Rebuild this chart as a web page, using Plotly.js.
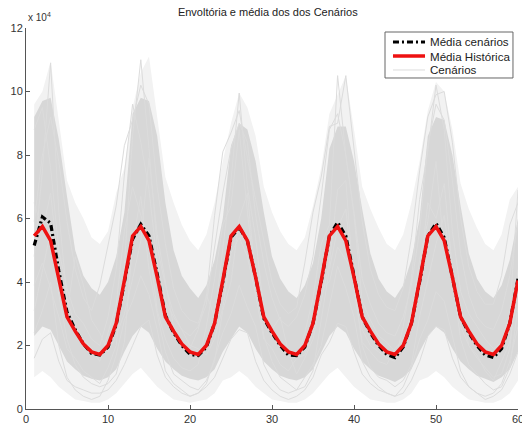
<!DOCTYPE html>
<html>
<head>
<meta charset="utf-8">
<script src="https://cdn.plot.ly/plotly-3.0.1.min.js"></script>
<style>html,body{margin:0;padding:0;background:#fff;}#chart{width:522px;height:425px;}</style>
</head>
<body>
<div id="chart"></div>
<script>
// Month index 1..60
const months = [1,2,3,4,5,6,7,8,9,10,11,12,13,14,15,16,17,18,19,20,21,22,23,24,25,26,27,28,29,30,31,32,33,34,35,36,37,38,39,40,41,42,43,44,45,46,47,48,49,50,51,52,53,54,55,56,57,58,59,60];

// Values in units of 10^4
const mediaHistorica = [5.45,5.75,5.3,4.15,2.9,2.45,2.05,1.8,1.72,2.0,2.7,4.05,
                        5.45,5.75,5.3,4.15,2.9,2.45,2.05,1.8,1.72,2.0,2.7,4.05,
                        5.45,5.75,5.3,4.15,2.9,2.45,2.05,1.8,1.72,2.0,2.7,4.05,
                        5.45,5.75,5.3,4.15,2.9,2.45,2.05,1.8,1.72,2.0,2.7,4.05,
                        5.45,5.75,5.3,4.15,2.9,2.45,2.05,1.8,1.72,2.0,2.7,4.05];

const mediaCenarios = [5.15,6.05,5.85,4.35,3.05,2.5,2.05,1.75,1.7,1.95,2.65,4.0,
                       5.35,5.82,5.45,4.25,2.95,2.4,2.0,1.72,1.68,1.95,2.7,4.0,
                       5.4,5.72,5.3,4.15,2.85,2.4,2.0,1.7,1.68,1.95,2.7,4.0,
                       5.45,5.88,5.45,4.2,2.9,2.4,2.0,1.72,1.62,1.95,2.7,4.0,
                       5.45,5.85,5.4,4.15,2.9,2.4,2.0,1.7,1.62,1.9,2.7,4.1];

// Scenario envelope (max / min) and dense core of the scenarios
const cenariosMax = [9.6,10.0,10.95,9.0,7.2,6.5,6.0,5.4,5.2,5.6,6.8,7.6,
                     9.5,10.6,11.1,9.2,7.3,6.5,5.8,5.3,5.0,5.5,6.5,7.8,
                     9.0,9.95,9.5,8.6,7.0,6.2,5.6,5.2,5.0,5.4,6.4,7.6,
                     9.3,9.9,10.5,8.8,7.0,6.3,5.7,5.2,5.0,5.5,6.5,7.8,
                     9.4,10.3,10.0,8.8,7.1,6.3,5.7,5.2,5.0,5.5,6.6,7.0];
const cenariosCoreHi = [9.2,9.7,9.8,8.5,6.7,5.0,4.2,3.8,3.6,4.0,4.8,6.2,
                        9.3,9.8,9.7,8.6,6.5,5.0,4.2,3.8,3.5,3.9,4.7,6.0,
                        8.3,9.0,8.8,7.8,6.2,4.8,4.1,3.7,3.5,3.9,4.6,6.0,
                        8.2,8.9,8.9,7.8,6.3,4.9,4.1,3.7,3.5,3.9,4.7,6.0,
                        8.6,9.2,9.1,8.0,6.4,4.9,4.1,3.7,3.5,3.9,4.7,6.0];
const cenariosCoreLo = [2.3,2.6,2.5,2.0,1.5,1.25,1.05,0.95,0.9,1.0,1.25,1.8,
                        2.3,2.6,2.4,1.9,1.5,1.25,1.05,0.95,0.9,1.0,1.25,1.8,
                        2.2,2.6,2.4,1.9,1.5,1.25,1.05,0.95,0.9,1.0,1.25,1.8,
                        2.3,2.6,2.4,1.9,1.5,1.25,1.05,0.95,0.85,1.0,1.25,1.8,
                        2.3,2.6,2.4,1.9,1.5,1.25,1.05,0.95,0.85,1.0,1.25,1.8];
const cenariosMin = [1.0,1.2,1.0,0.7,0.5,0.3,0.25,0.2,0.2,0.3,0.5,0.8,
                     1.1,1.3,1.0,0.7,0.5,0.3,0.25,0.2,0.25,0.3,0.5,0.9,
                     1.0,1.2,1.0,0.7,0.5,0.3,0.25,0.2,0.2,0.3,0.5,0.8,
                     1.1,1.3,1.0,0.7,0.5,0.3,0.25,0.2,0.2,0.3,0.5,0.9,
                     1.0,1.2,1.0,0.7,0.5,0.3,0.25,0.2,0.2,0.3,0.5,0.9];

// Individual scenario strands
const cenario1 = [4.8,7.5,10.9,6.2,3.5,2.6,2.2,1.9,1.5,2.4,3.3,5.6,7.0,6.1,5.2,3.1,2.2,1.6,1.3,1.2,1.4,2.6,4.1,5.8,6.4,8.8,6.2,4.0,2.7,2.5,2.9,1.8,1.1,1.6,2.2,3.4,4.6,6.9,7.2,3.8,2.1,1.8,1.5,1.4,1.9,2.2,2.9,4.7,5.9,7.8,5.0,4.2,3.3,2.0,1.7,1.2,0.9,1.5,2.1,3.8];
const cenario2 = [3.9,4.6,3.8,2.9,1.9,1.6,1.2,1.0,0.8,1.3,2.0,4.5,8.6,11.0,8.2,5.1,3.9,3.0,2.5,2.0,1.9,1.7,2.2,3.2,4.9,5.4,4.8,3.6,2.2,1.9,1.4,1.2,1.6,2.4,3.5,5.2,5.8,10.5,8.0,6.1,3.4,2.8,2.3,2.1,1.8,2.0,3.1,4.1,6.5,6.0,7.1,4.4,2.6,2.0,1.6,1.3,1.0,1.1,1.9,4.4];
const cenario3 = [6.5,5.6,6.8,4.4,3.0,4.8,3.9,2.8,2.4,1.8,2.3,3.0,4.1,5.3,7.9,5.5,4.0,2.6,2.0,1.9,2.5,3.6,2.9,5.0,7.2,9.95,7.0,5.4,3.1,2.3,2.1,1.8,1.6,1.7,2.4,3.8,4.0,5.1,4.7,4.3,2.5,2.0,1.8,1.6,1.5,2.6,4.1,6.6,8.1,10.2,8.8,5.6,3.7,3.0,2.6,2.2,1.9,2.1,3.0,6.9];
const cenario4 = [2.4,3.1,4.0,2.0,1.0,0.6,0.4,0.3,0.4,0.9,1.7,2.8,3.4,4.2,3.6,2.5,1.2,0.8,0.6,0.4,0.5,0.8,1.6,2.4,3.0,3.9,3.2,2.6,1.4,0.9,0.6,0.5,0.6,1.0,1.4,2.0,3.3,4.5,3.8,2.9,1.5,1.0,0.7,0.5,0.4,0.7,1.3,2.2,2.8,3.7,3.4,2.3,1.2,0.7,0.5,0.4,0.5,0.8,1.5,2.6];
const cenario5 = [8.8,9.5,7.6,5.0,3.8,3.0,2.7,2.2,2.0,2.9,4.4,7.4,9.6,8.4,6.9,4.6,3.4,2.9,2.5,2.3,2.6,3.3,5.1,6.8,8.2,9.0,8.4,6.1,4.6,3.5,2.8,2.6,2.9,3.6,4.8,6.7,8.8,9.3,8.0,6.2,4.1,3.3,2.7,2.4,2.3,2.9,3.9,5.6,8.3,9.6,9.1,7.2,4.9,3.6,2.9,2.6,2.5,3.1,4.2,5.9];
const cenario6 = [3.1,4.4,5.6,3.6,2.2,1.4,1.0,0.8,0.7,0.8,1.1,2.1,5.2,6.7,4.4,3.0,1.8,1.1,0.9,0.7,0.6,0.9,1.5,3.1,4.0,6.0,6.8,4.1,2.3,1.5,1.0,0.8,0.6,0.7,1.2,2.8,4.4,5.7,6.3,3.9,2.0,1.3,1.0,0.9,0.7,0.9,1.4,2.9,4.1,5.2,6.1,4.2,2.2,1.4,1.1,0.8,0.6,0.7,1.3,3.2];
const cenario7 = [5.9,8.0,9.2,7.8,5.9,4.4,3.5,3.1,3.9,5.2,6.4,8.3,9.1,10.2,9.6,7.0,5.2,3.8,3.1,2.8,2.7,3.5,6.1,8.1,8.7,9.4,7.9,6.6,5.3,4.0,3.3,3.0,3.2,4.6,6.2,7.3,8.9,9.0,10.5,8.2,5.9,4.4,3.6,3.2,3.1,3.8,5.4,7.5,9.2,9.9,10.0,8.4,6.0,4.5,3.7,3.3,3.3,4.2,5.8,6.5];
const cenario8 = [1.6,2.2,2.4,1.5,0.9,0.7,0.6,0.5,0.5,0.6,0.9,1.4,2.0,2.6,2.8,1.7,1.0,0.7,0.5,0.4,0.5,0.7,1.0,1.6,2.2,2.5,2.4,1.5,0.9,0.6,0.4,0.3,0.4,0.6,1.0,1.7,2.1,2.7,2.6,1.8,1.1,0.8,0.6,0.5,0.4,0.5,0.9,1.5,2.3,2.6,2.5,1.6,1.0,0.7,0.5,0.3,0.4,0.6,1.1,1.8];

const xTicks = [0,10,20,30,40,50,60];
const yTicks = [0,2,4,6,8,10,12];
const legendLabels = ['Média cenários','Média Histórica','Cenários'];

const scenGray = '#dcdcdc';
const redCol = '#ee1111';
const blackDash = '6px,3px,2px,3px';

const strands = [cenario1,cenario2,cenario3,cenario4,cenario5,cenario6,cenario7,cenario8];
const traces = [
  {x: months, y: cenariosMin, type:'scatter', mode:'lines', line:{width:0}, showlegend:false, hoverinfo:'skip'},
  {x: months, y: cenariosMax, type:'scatter', mode:'lines', line:{width:0}, fill:'tonexty', fillcolor:'#f2f2f2', showlegend:false, hoverinfo:'skip'},
  {x: months, y: cenariosCoreLo, type:'scatter', mode:'lines', line:{width:0}, showlegend:false, hoverinfo:'skip'},
  {x: months, y: cenariosCoreHi, type:'scatter', mode:'lines', line:{width:0}, fill:'tonexty', fillcolor:'#d7d7d7', showlegend:false, hoverinfo:'skip'}
];
strands.forEach(s => traces.push({x: months, y: s, type:'scatter', mode:'lines', line:{color:scenGray, width:1}, showlegend:false}));
traces.push({x: months, y: mediaCenarios, type:'scatter', mode:'lines', line:{color:'#000000', width:3.2, dash:blackDash}, showlegend:false});
traces.push({x: months, y: mediaHistorica, type:'scatter', mode:'lines', line:{color:redCol, width:3.5}, showlegend:false});

// Legend drawn as a MATLAB-style box (paper coordinates)
const lgX0 = 0.7297, lgX1 = 0.9898, lgY0 = 0.8688, lgY1 = 0.9895;
const rowY = [0.9633, 0.9265, 0.8898];
const smpX0 = 0.7459, smpX1 = 0.8110, txtX = 0.8171;
const sampleLines = [
  {color:'#000000', width:3.2, dash:blackDash},
  {color:redCol, width:3.5, dash:'solid'},
  {color:scenGray, width:1, dash:'solid'}
];
const shapes = [
  {type:'rect', xref:'paper', yref:'paper', x0:lgX0, x1:lgX1, y0:lgY0, y1:lgY1, fillcolor:'#ffffff', line:{color:'#666', width:1}, layer:'above'}
];
const annotations = [
  {xref:'paper', yref:'paper', x:0, y:1, xanchor:'left', yanchor:'bottom', yshift:3, text:'x 10<sup>4</sup>', showarrow:false, font:{size:10, color:'#333'}}
];
legendLabels.forEach((lab, i) => {
  shapes.push({type:'line', xref:'paper', yref:'paper', x0:smpX0, x1:smpX1, y0:rowY[i], y1:rowY[i], line:sampleLines[i], layer:'above'});
  annotations.push({xref:'paper', yref:'paper', x:txtX, y:rowY[i], xanchor:'left', yanchor:'middle', text:lab, showarrow:false, font:{size:11.6, color:'#222'}});
});

const fontFam = 'Liberation Sans, Arial, Helvetica, sans-serif';
const layout = {
  width: 522, height: 425,
  margin: {l:26, r:4, t:28, b:16, pad:0},
  paper_bgcolor:'#ffffff', plot_bgcolor:'#ffffff',
  font: {family: fontFam, size: 11, color:'#222'},
  showlegend: false,
  title: {text:'Envoltória e média dos dos Cenários', x:0.513, xanchor:'center', y:0.972, yanchor:'middle', yref:'container', font:{size:11, color:'#222', family: fontFam}},
  xaxis: {range:[0,60], tickvals:xTicks, ticks:'inside', ticklen:4, tickcolor:'#555', showline:true, linecolor:'#555', linewidth:1, showgrid:false, zeroline:false, tickfont:{size:11, color:'#333'}, ticklabeloverflow:'allow', mirror:false},
  yaxis: {range:[0,12], tickvals:yTicks, ticks:'inside', ticklen:4, tickcolor:'#555', showline:true, linecolor:'#555', linewidth:1, showgrid:false, zeroline:false, tickfont:{size:11, color:'#333'}, mirror:false},
  shapes: shapes,
  annotations: annotations
};

Plotly.newPlot('chart', traces, layout, {displayModeBar:false, staticPlot:true});
</script>
</body>
</html>
